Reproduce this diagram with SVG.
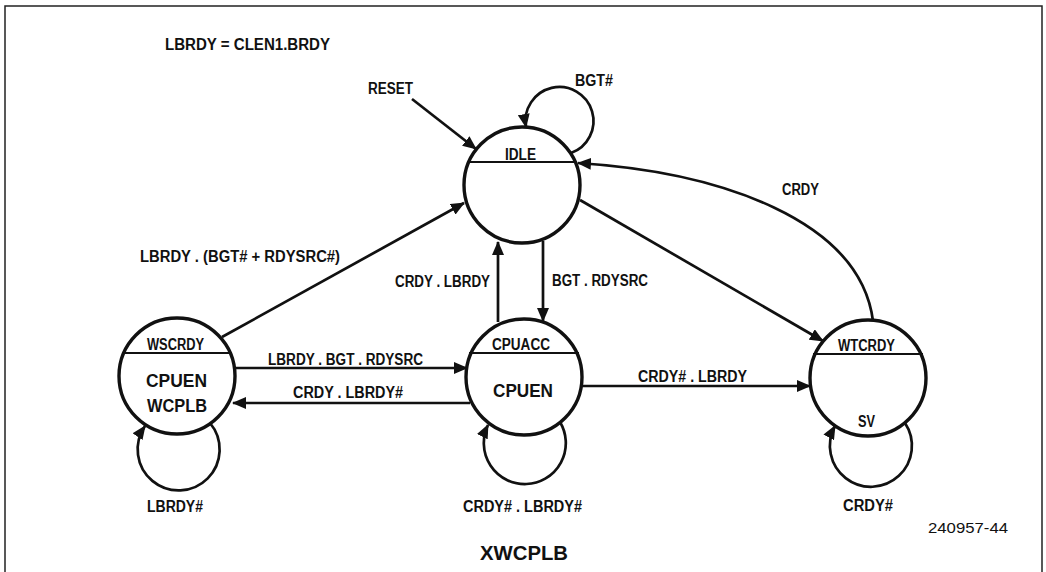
<svg xmlns="http://www.w3.org/2000/svg" width="1046" height="572" viewBox="0 0 1046 572">
<style>
.t{font-family:"Liberation Sans",Arial,sans-serif;font-weight:bold;font-size:16px;fill:#111}
.big{font-size:18px}
.node{fill:#fff;stroke:#111;stroke-width:3.4}
.div{stroke:#111;stroke-width:2}
.c{fill:none;stroke:#111;stroke-width:2.7}
.frame{fill:none;stroke:#222;stroke-width:1.5}
</style>
<defs>
<marker id="ah" markerUnits="userSpaceOnUse" markerWidth="14" markerHeight="12" refX="13" refY="6" orient="auto">
<path d="M0,0 L14,6 L0,12 z" fill="#111"/>
</marker>
</defs>
<rect width="1046" height="572" fill="#fff"/>
<path class="frame" d="M5,572 L5,6 L1042,6 L1042,572"/>
<text class="t" x="165" y="50" textLength="165" lengthAdjust="spacingAndGlyphs">LBRDY = CLEN1.BRDY</text>

<g id="connectors">
<line class="c" x1="412" y1="99" x2="476" y2="149" marker-end="url(#ah)"/>
<path class="c" d="M571,153 A34,34 0 1 0 526,127" marker-end="url(#ah)"/>
<line class="c" x1="222" y1="337" x2="464" y2="203" marker-end="url(#ah)"/>
<line class="c" x1="580" y1="200" x2="823" y2="341" marker-end="url(#ah)"/>
<path class="c" d="M873,321 C860,220 720,172 578,163" marker-end="url(#ah)"/>
<line class="c" x1="498" y1="322" x2="498" y2="242" marker-end="url(#ah)"/>
<line class="c" x1="543" y1="241" x2="543" y2="321" marker-end="url(#ah)"/>
<line class="c" x1="235" y1="368" x2="467" y2="368" marker-end="url(#ah)"/>
<line class="c" x1="470" y1="403" x2="233" y2="403" marker-end="url(#ah)"/>
<line class="c" x1="581" y1="386" x2="810" y2="386" marker-end="url(#ah)"/>
<path class="c" d="M210,423 A41,41 0 1 1 145,426" marker-end="url(#ah)"/>
<path class="c" d="M560,422 A41,41 0 1 1 488,425" marker-end="url(#ah)"/>
<path class="c" d="M905,423 A41,41 0 1 1 835,426" marker-end="url(#ah)"/>
</g>

<g id="idle">
<circle class="node" cx="522" cy="185" r="58"/>
<line class="div" x1="468" y1="162" x2="576" y2="162"/>
<text class="t" x="505" y="160" textLength="31" lengthAdjust="spacingAndGlyphs">IDLE</text>
</g>
<g id="wscrdy">
<circle class="node" cx="177" cy="376" r="58"/>
<line class="div" x1="122" y1="353" x2="232" y2="353"/>
<text class="t" x="147" y="350" textLength="57" lengthAdjust="spacingAndGlyphs">WSCRDY</text>
<text class="t big" x="146" y="387" textLength="61" lengthAdjust="spacingAndGlyphs">CPUEN</text>
<text class="t big" x="147" y="412" textLength="60" lengthAdjust="spacingAndGlyphs">WCPLB</text>
</g>
<g id="cpuacc">
<circle class="node" cx="524" cy="377" r="58"/>
<line class="div" x1="469" y1="353" x2="579" y2="353"/>
<text class="t" x="492" y="350" textLength="58" lengthAdjust="spacingAndGlyphs">CPUACC</text>
<text class="t big" x="493" y="397" textLength="60" lengthAdjust="spacingAndGlyphs">CPUEN</text>
</g>
<g id="wtcrdy">
<circle class="node" cx="868" cy="378" r="58"/>
<line class="div" x1="813" y1="354" x2="923" y2="354"/>
<text class="t" x="838" y="351" textLength="57" lengthAdjust="spacingAndGlyphs">WTCRDY</text>
<text class="t" x="858" y="427" textLength="17" lengthAdjust="spacingAndGlyphs">SV</text>
</g>

<g id="labels">
<text class="t" x="368" y="94" textLength="45" lengthAdjust="spacingAndGlyphs">RESET</text>
<text class="t" x="575" y="86" textLength="38" lengthAdjust="spacingAndGlyphs">BGT#</text>
<text class="t" x="782" y="195" textLength="37" lengthAdjust="spacingAndGlyphs">CRDY</text>
<text class="t" x="140" y="262" textLength="200" lengthAdjust="spacingAndGlyphs">LBRDY . (BGT# + RDYSRC#)</text>
<text class="t" x="395" y="287" textLength="95" lengthAdjust="spacingAndGlyphs">CRDY . LBRDY</text>
<text class="t" x="552" y="286" textLength="96" lengthAdjust="spacingAndGlyphs">BGT . RDYSRC</text>
<text class="t" x="268" y="365" textLength="155" lengthAdjust="spacingAndGlyphs">LBRDY . BGT . RDYSRC</text>
<text class="t" x="293" y="398" textLength="110" lengthAdjust="spacingAndGlyphs">CRDY . LBRDY#</text>
<text class="t" x="638" y="382" textLength="109" lengthAdjust="spacingAndGlyphs">CRDY# . LBRDY</text>
<text class="t" x="147" y="512" textLength="56" lengthAdjust="spacingAndGlyphs">LBRDY#</text>
<text class="t" x="463" y="512" textLength="119" lengthAdjust="spacingAndGlyphs">CRDY# . LBRDY#</text>
<text class="t" x="843" y="511" textLength="50" lengthAdjust="spacingAndGlyphs">CRDY#</text>
<text x="928" y="533" textLength="80" lengthAdjust="spacingAndGlyphs" style="font-family:'Liberation Sans',Arial,sans-serif;font-size:15px;fill:#111">240957-44</text>
<text x="480" y="560" textLength="88" lengthAdjust="spacingAndGlyphs" style="font-family:'Liberation Sans',Arial,sans-serif;font-weight:bold;font-size:20px;fill:#111">XWCPLB</text>
</g>
</svg>
